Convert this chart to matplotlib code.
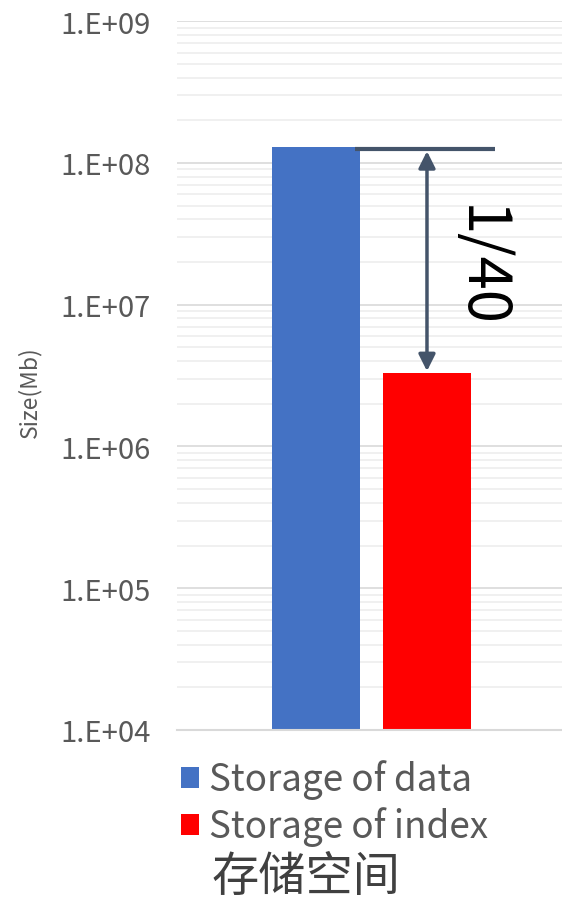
import math
import matplotlib
matplotlib.use('Agg')
import matplotlib.pyplot as plt
from matplotlib.ticker import LogLocator, FuncFormatter

plt.rcParams['font.family'] = ['Noto Sans CJK SC', 'DejaVu Sans']
plt.rcParams['font.weight'] = 'light'

# values (Mb)
series_names = ['Storage of data', 'Storage of index']
sizes = [1.3e8, 3.3e6]
colors = ['#4472C4', '#FF0000']
ratio_label = '1/40'
x_label = '存储空间'
y_label = 'Size(Mb)'

fig = plt.figure(figsize=(5.62, 9.03), dpi=100)
ax = fig.add_axes([0.315, 0.1905, 0.692, 0.785])

width = 0.226
offset = 0.1427
bars = []
for i, (name, val, col) in enumerate(zip(series_names, sizes, colors)):
    pos = -offset if i == 0 else offset
    b = ax.bar(pos, val, width=width, color=col, label=name, zorder=3, bottom=1e4)
    bars.append(b)

ax.set_yscale('log')
ax.set_ylim(1e4, 1e9)
ax.set_xlim(-0.5, 0.5)

ax.yaxis.set_major_locator(LogLocator(base=10, numticks=10))
ax.yaxis.set_minor_locator(LogLocator(base=10, subs=range(2, 10), numticks=20))
ax.yaxis.set_major_formatter(FuncFormatter(lambda v, p: '1.E+%02d' % round(math.log10(v))))
ax.grid(True, which='major', axis='y', color='#D9D9D9', lw=1.2, zorder=0)
ax.grid(True, which='minor', axis='y', color='#EDEDED', lw=1.2, zorder=0)
ax.tick_params(axis='y', which='both', length=0, pad=19, labelsize=21, labelcolor='#595959')
ax.tick_params(axis='x', which='both', length=0, labelbottom=False)
for s in ['top', 'right', 'left']:
    ax.spines[s].set_visible(False)
ax.spines['bottom'].set_color('#D9D9D9')
ax.spines['bottom'].set_linewidth(1.5)
ax.spines['bottom'].set_zorder(4)

# ratio annotation
arrow_col = '#44546A'
ax.plot([-0.042, 0.317], [sizes[0] * 0.96, sizes[0] * 0.96], color=arrow_col, lw=3, zorder=5,
        solid_capstyle='butt')
ax.annotate('', xy=(offset, sizes[1] * 1.03), xytext=(offset, sizes[0] * 0.93),
            arrowprops=dict(arrowstyle='<|-|>', color=arrow_col, lw=2.5,
                            mutation_scale=25, shrinkA=0, shrinkB=0), zorder=5)
ax.text(0.276, 1.9e7, ratio_label, rotation=-90, ha='center', va='center',
        fontsize=43, color='black', zorder=6)

leg = fig.legend(handles=[b for b in bars], loc='upper left',
                 bbox_to_anchor=(0.322, 0.158), frameon=False, fontsize=26.5,
                 handlelength=0.5, handleheight=0.5, handletextpad=0.25,
                 labelspacing=0.2, borderaxespad=0, borderpad=0)
for t in leg.get_texts():
    t.set_color('#595959')

fig.text(0.545, 0.028, x_label, ha='center', va='center', fontsize=34, color='#404040')
fig.text(0.052, 0.566, y_label, rotation=90, ha='center', va='center', fontsize=16.5,
         color='#595959')

fig.savefig('out.png', dpi=100)
plt.close(fig)
